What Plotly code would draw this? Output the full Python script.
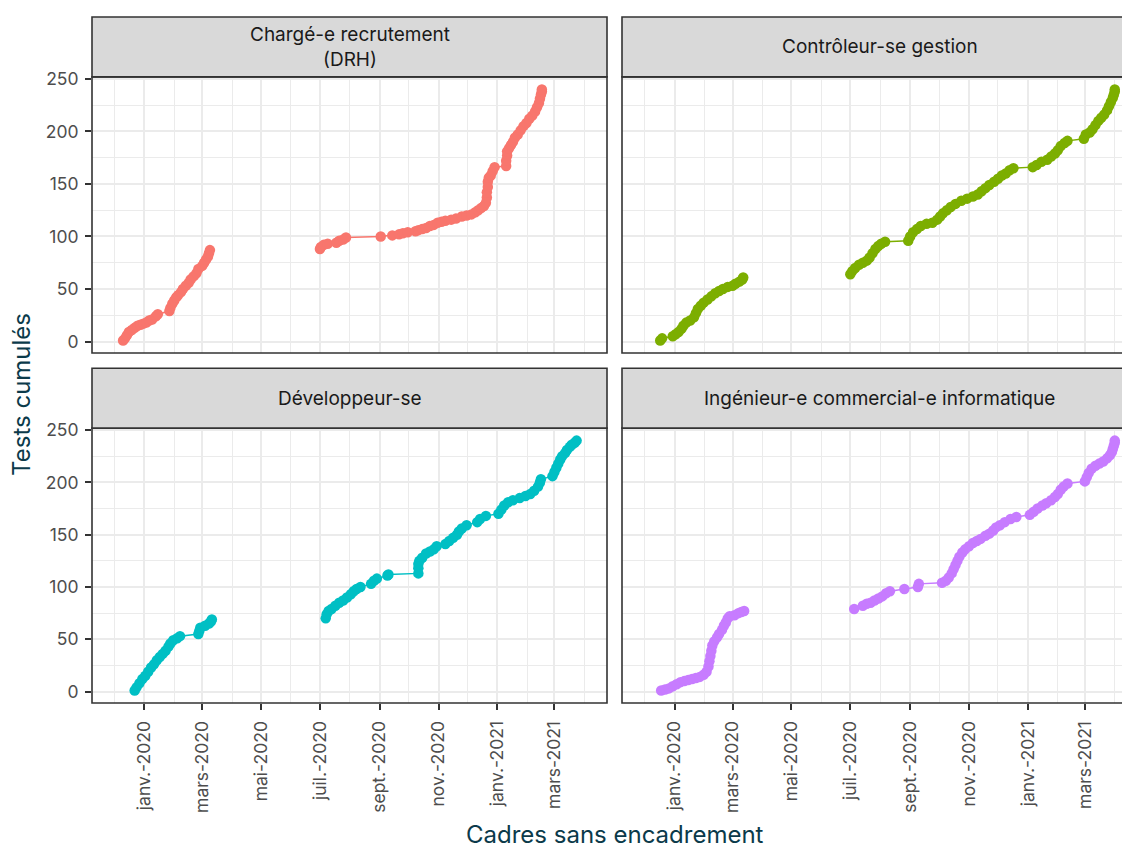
import plotly.graph_objects as go

# ---------------- data ----------------
panel_titles = ["Chargé-e recrutement<br>(DRH)", "Contrôleur-se gestion",
                "Développeur-se", "Ingénieur-e commercial-e informatique"]
colors = ["#F8766D", "#7CAE00", "#00BFC4", "#C77CFF"]

tick_dates = ["2020-01-01", "2020-03-01", "2020-05-01", "2020-07-01",
              "2020-09-01", "2020-11-01", "2021-01-01", "2021-03-01"]
tick_labels = ["janv.-2020", "mars-2020", "mai-2020", "juil.-2020",
               "sept.-2020", "nov.-2020", "janv.-2021", "mars-2021"]
minor_dates = ["2019-12-01", "2020-02-01", "2020-04-01", "2020-06-01",
               "2020-08-01", "2020-10-01", "2020-12-01", "2021-02-01", "2021-04-01"]
y_ticks = [0, 50, 100, 150, 200, 250]
y_minor = [25, 75, 125, 175, 225]

# Panel 1 : Chargé-e recrutement (DRH)
p1_dates_a = ["2019-12-10", "2019-12-12", "2019-12-14", "2019-12-16", "2019-12-19", "2019-12-22",
              "2019-12-25", "2019-12-28", "2019-12-31", "2020-01-03", "2020-01-06", "2020-01-09",
              "2020-01-13", "2020-01-15", "2020-01-27", "2020-01-28", "2020-01-30", "2020-02-01",
              "2020-02-03", "2020-02-05", "2020-02-08", "2020-02-10", "2020-02-13", "2020-02-16",
              "2020-02-18", "2020-02-21", "2020-02-24", "2020-02-26", "2020-03-01", "2020-03-03",
              "2020-03-05", "2020-03-07", "2020-03-08", "2020-03-09"]
p1_vals_a = [1, 3, 6, 9, 11, 13, 15, 16, 17, 18, 20, 21, 24, 26, 29, 32, 36, 39, 42, 44, 47, 50,
             53, 56, 59, 62, 65, 69, 72, 75, 78, 81, 84, 87]
p1_dates_b = ["2020-07-01", "2020-07-02", "2020-07-05", "2020-07-09", "2020-07-18", "2020-07-21",
              "2020-07-25", "2020-07-28", "2020-09-02", "2020-09-14", "2020-09-21", "2020-09-25",
              "2020-09-30", "2020-10-08", "2020-10-11", "2020-10-15", "2020-10-19", "2020-10-23",
              "2020-10-27", "2020-10-31", "2020-11-04", "2020-11-08", "2020-11-14", "2020-11-19",
              "2020-11-25", "2020-11-30", "2020-12-05", "2020-12-09", "2020-12-12", "2020-12-15",
              "2020-12-18", "2020-12-20", "2020-12-21", "2020-12-21", "2020-12-22", "2020-12-22",
              "2020-12-23", "2020-12-25", "2020-12-27", "2020-12-29", "2021-01-10", "2021-01-10",
              "2021-01-11", "2021-01-11", "2021-01-13", "2021-01-15", "2021-01-17", "2021-01-19",
              "2021-01-22", "2021-01-25", "2021-01-28", "2021-01-31", "2021-02-03", "2021-02-06",
              "2021-02-09", "2021-02-11", "2021-02-13", "2021-02-14", "2021-02-15", "2021-02-16",
              "2021-02-16"]
p1_vals_b = [88, 90, 92, 93, 94, 96, 97, 99, 100, 101, 102, 103, 104, 105, 106, 107, 108, 110,
             111, 113, 114, 115, 116, 117, 119, 120, 121, 123, 125, 127, 129, 132, 137, 142, 147,
             152, 156, 158, 162, 166, 167, 172, 177, 181, 184, 187, 190, 194, 197, 201, 205, 208,
             212, 215, 219, 223, 227, 231, 235, 238, 240]

# Panel 2 : Contrôleur-se gestion
p2_dates_a = ["2019-12-17", "2019-12-19", "2019-12-30", "2020-01-02", "2020-01-05", "2020-01-08",
              "2020-01-10", "2020-01-13", "2020-01-17", "2020-01-21", "2020-01-23", "2020-01-25",
              "2020-01-28", "2020-01-31", "2020-02-04", "2020-02-08", "2020-02-12", "2020-02-16",
              "2020-02-20", "2020-02-25", "2020-03-01", "2020-03-04", "2020-03-08", "2020-03-11",
              "2020-03-12"]
p2_vals_a = [1, 3, 5, 7, 9, 12, 15, 18, 20, 23, 27, 31, 34, 37, 40, 43, 46, 48, 50, 52, 53, 55,
             57, 59, 61]
p2_dates_b = ["2020-07-01", "2020-07-03", "2020-07-06", "2020-07-10", "2020-07-14", "2020-07-18",
              "2020-07-21", "2020-07-24", "2020-07-27", "2020-07-30", "2020-08-02", "2020-08-06",
              "2020-08-30", "2020-09-01", "2020-09-04", "2020-09-08", "2020-09-12", "2020-09-18",
              "2020-09-24", "2020-09-29", "2020-10-02", "2020-10-05", "2020-10-09", "2020-10-13",
              "2020-10-18", "2020-10-24", "2020-10-30", "2020-11-05", "2020-11-10", "2020-11-14",
              "2020-11-18", "2020-11-22", "2020-11-27", "2020-12-01", "2020-12-05", "2020-12-09",
              "2020-12-13", "2020-12-17", "2021-01-06", "2021-01-10", "2021-01-15", "2021-01-21",
              "2021-01-25", "2021-01-29", "2021-02-01", "2021-02-04", "2021-02-08", "2021-02-11",
              "2021-02-28", "2021-03-02", "2021-03-06", "2021-03-09", "2021-03-12", "2021-03-15",
              "2021-03-18", "2021-03-21", "2021-03-24", "2021-03-26", "2021-03-28", "2021-03-30",
              "2021-03-31", "2021-04-01", "2021-04-01"]
p2_vals_b = [64, 67, 70, 73, 75, 77, 80, 84, 88, 91, 93, 95, 96, 100, 104, 107, 110, 112, 113,
             116, 119, 122, 125, 128, 131, 134, 136, 138, 140, 143, 146, 149, 152, 155, 158, 160,
             163, 165, 166, 168, 171, 173, 176, 179, 182, 186, 189, 191, 193, 197, 199, 202, 206,
             210, 213, 216, 220, 224, 228, 232, 235, 238, 240]

# Panel 3 : Développeur-se
p3_dates_a = ["2019-12-22", "2019-12-24", "2019-12-27", "2019-12-30", "2020-01-02", "2020-01-05",
              "2020-01-08", "2020-01-11", "2020-01-14", "2020-01-17", "2020-01-20", "2020-01-23",
              "2020-01-26", "2020-01-28", "2020-01-31", "2020-02-04", "2020-02-07", "2020-02-26",
              "2020-02-27", "2020-02-28", "2020-03-04", "2020-03-08", "2020-03-10", "2020-03-11"]
p3_vals_a = [1, 4, 8, 12, 15, 19, 23, 26, 30, 33, 36, 39, 43, 46, 49, 51, 53, 55, 58, 61, 63, 65,
             67, 69]
p3_dates_b = ["2020-07-07", "2020-07-08", "2020-07-10", "2020-07-13", "2020-07-17", "2020-07-21",
              "2020-07-25", "2020-07-29", "2020-08-02", "2020-08-05", "2020-08-08", "2020-08-12",
              "2020-08-23", "2020-08-26", "2020-08-29", "2020-09-09", "2020-09-10", "2020-10-11",
              "2020-10-11", "2020-10-11", "2020-10-12", "2020-10-15", "2020-10-19", "2020-10-23",
              "2020-10-27", "2020-10-30", "2020-11-08", "2020-11-12", "2020-11-16", "2020-11-20",
              "2020-11-22", "2020-11-25", "2020-11-30", "2020-12-11", "2020-12-14", "2020-12-20",
              "2021-01-02", "2021-01-05", "2021-01-08", "2021-01-12", "2021-01-17", "2021-01-24",
              "2021-01-30", "2021-02-04", "2021-02-08", "2021-02-12", "2021-02-14", "2021-02-15",
              "2021-02-27", "2021-03-01", "2021-03-03", "2021-03-05", "2021-03-07", "2021-03-09",
              "2021-03-12", "2021-03-14", "2021-03-17", "2021-03-19", "2021-03-22", "2021-03-24"]
p3_vals_b = [70, 74, 77, 79, 82, 85, 87, 90, 93, 96, 98, 100, 103, 106, 108, 111, 112, 113, 118,
             122, 125, 128, 132, 134, 136, 139, 141, 144, 147, 150, 153, 156, 159, 162, 165, 168,
             170, 174, 178, 181, 183, 185, 187, 189, 192, 196, 200, 203, 206, 210, 214, 218, 222,
             225, 228, 231, 234, 236, 238, 240]

# Panel 4 : Ingénieur-e commercial-e informatique
p4_dates_a = ["2019-12-18", "2019-12-22", "2019-12-26", "2019-12-30", "2020-01-03", "2020-01-07",
              "2020-01-11", "2020-01-15", "2020-01-19", "2020-01-23", "2020-01-27", "2020-01-31",
              "2020-02-03", "2020-02-05", "2020-02-06", "2020-02-07", "2020-02-08", "2020-02-09",
              "2020-02-11", "2020-02-14", "2020-02-16", "2020-02-19", "2020-02-21", "2020-02-23",
              "2020-02-25", "2020-02-27", "2020-03-03", "2020-03-07", "2020-03-10", "2020-03-13"]
p4_vals_a = [1, 2, 3, 5, 7, 9, 10, 11, 12, 13, 14, 16, 19, 24, 29, 34, 39, 44, 48, 52, 55, 59,
             63, 66, 70, 72, 73, 75, 76, 77]
p4_dates_b = ["2020-07-05", "2020-07-14", "2020-07-18", "2020-07-22", "2020-07-26", "2020-07-30",
              "2020-08-03", "2020-08-07", "2020-08-11", "2020-08-26", "2020-09-09", "2020-09-10",
              "2020-10-04", "2020-10-08", "2020-10-11", "2020-10-14", "2020-10-16", "2020-10-18",
              "2020-10-20", "2020-10-22", "2020-10-25", "2020-10-28", "2020-11-01", "2020-11-05",
              "2020-11-09", "2020-11-13", "2020-11-18", "2020-11-22", "2020-11-26", "2020-11-29",
              "2020-12-03", "2020-12-08", "2020-12-14", "2020-12-20", "2021-01-03", "2021-01-07",
              "2021-01-11", "2021-01-16", "2021-01-20", "2021-01-25", "2021-01-29", "2021-02-01",
              "2021-02-04", "2021-02-07", "2021-02-11", "2021-03-01", "2021-03-03", "2021-03-05",
              "2021-03-08", "2021-03-12", "2021-03-16", "2021-03-20", "2021-03-24", "2021-03-27",
              "2021-03-29", "2021-03-30", "2021-03-31", "2021-04-01", "2021-04-01"]
p4_vals_b = [79, 82, 84, 85, 87, 89, 91, 94, 96, 98, 100, 103, 104, 106, 109, 113, 117, 121, 125,
             129, 133, 136, 139, 142, 144, 146, 149, 151, 154, 157, 159, 162, 165, 167, 169, 172,
             175, 178, 180, 183, 186, 189, 193, 196, 199, 201, 205, 209, 213, 216, 218, 220, 223,
             226, 229, 232, 235, 238, 240]

panels = [
    [(p1_dates_a, p1_vals_a), (p1_dates_b, p1_vals_b)],
    [(p2_dates_a, p2_vals_a), (p2_dates_b, p2_vals_b)],
    [(p3_dates_a, p3_vals_a), (p3_dates_b, p3_vals_b)],
    [(p4_dates_a, p4_vals_a), (p4_dates_b, p4_vals_b)],
]

# ---------------- layout geometry ----------------
# Geometry is given in page pixels; the page body adds an 8 px margin.
OFF = 8
W, H = 1130 - OFF, 849 - OFF
ML, MR, MT, MB = 92 - OFF, 0, 15 - OFF, 146
PW, PH = W - ML - MR, H - MT - MB


def fx(px):
    return (px - OFF - ML) / PW


def fy(py):
    return (H - MB - (py - OFF)) / PH


col_px = [(92, 607), (622, 1137)]
row_px = [(75, 352), (427.3, 703)]
strip_px = [(15, 75), (367.3, 427.3)]
x_ranges = [["2019-11-07 19:00", "2021-04-24 12:00"],
            ["2019-11-07 10:00", "2021-04-16 19:00"]]
y_range = [-10.95, 251.95]

FONT = "Inter, sans-serif"
GRID_MAJ = "#EBEBEB"
DARK = "#333333"

fig = go.Figure()
shapes, annotations = [], []

for i, segs in enumerate(panels):
    r, c = divmod(i, 2)
    ax = "" if i == 0 else str(i + 1)
    for d, v in segs:
        fig.add_trace(go.Scatter(
            x=d, y=v, mode="lines+markers", xaxis="x" + ax, yaxis="y" + ax,
            line=dict(color=colors[i], width=1.5),
            marker=dict(color=colors[i], size=10.5, line=dict(width=0)),
            showlegend=False, hoverinfo="x+y"))

    x0p, x1p = col_px[c]
    y0p, y1p = row_px[r]
    xdom = [fx(x0p), min(1.0, fx(x1p))]
    ydom = [fy(y1p), fy(y0p)]
    bottom = (r == 1)
    left = (c == 0)
    fig.layout["xaxis" + ax] = dict(
        domain=xdom, range=x_ranges[c], type="date",
        anchor="y" + ax, showline=False, zeroline=False,
        tickmode="array", tickvals=tick_dates, ticktext=tick_labels,
        showticklabels=bottom, ticks="outside" if bottom else "",
        ticklen=6, tickwidth=1.6, tickcolor=DARK, tickangle=-90,
        ticklabelstandoff=4,
        tickfont=dict(family=FONT, size=17.5, color="#4D4D4D"),
        showgrid=True, gridcolor=GRID_MAJ, gridwidth=2,
        minor=dict(tickmode="array", tickvals=minor_dates, showgrid=True,
                   gridcolor=GRID_MAJ, gridwidth=1, ticks=""),
        fixedrange=True,
    )
    fig.layout["yaxis" + ax] = dict(
        domain=ydom, range=y_range, anchor="x" + ax,
        showline=False, zeroline=False,
        tickmode="array", tickvals=y_ticks,
        showticklabels=left, ticks="outside" if left else "",
        ticklen=6, tickwidth=1.6, tickcolor=DARK,
        ticklabelstandoff=3,
        tickfont=dict(family=FONT, size=17.5, color="#4D4D4D"),
        showgrid=True, gridcolor=GRID_MAJ, gridwidth=2,
        minor=dict(tickmode="array", tickvals=y_minor, showgrid=True,
                   gridcolor=GRID_MAJ, gridwidth=1, ticks=""),
        fixedrange=True,
    )
    # panel border
    shapes.append(dict(type="rect", xref="paper", yref="paper", layer="above",
                       x0=fx(x0p), x1=fx(x1p), y0=fy(y1p), y1=fy(y0p),
                       line=dict(color=DARK, width=1.6), fillcolor="rgba(0,0,0,0)"))
    # strip
    s0, s1 = strip_px[r]
    shapes.append(dict(type="rect", xref="paper", yref="paper", layer="above",
                       x0=fx(x0p), x1=fx(x1p), y0=fy(s1), y1=fy(s0),
                       line=dict(color=DARK, width=1.6), fillcolor="#D9D9D9"))
    annotations.append(dict(xref="paper", yref="paper",
                            x=fx((x0p + x1p) / 2), y=fy((s0 + s1) / 2),
                            text=panel_titles[i], showarrow=False,
                            xanchor="center", yanchor="middle",
                            font=dict(family=FONT, size=19, color="#1A1A1A")))

annotations.append(dict(xref="paper", yref="paper", x=fx(614.5), y=fy(835),
                        text="Cadres sans encadrement", showarrow=False,
                        xanchor="center", yanchor="middle",
                        font=dict(family=FONT, size=24, color="#0B3A4A")))
annotations.append(dict(xref="paper", yref="paper", x=fx(22), y=fy(394),
                        text="Tests cumulés", showarrow=False, textangle=-90,
                        xanchor="center", yanchor="middle",
                        font=dict(family=FONT, size=24, color="#0B3A4A")))

fig.update_layout(
    width=W, height=H,
    margin=dict(l=ML, r=MR, t=MT, b=MB, pad=0),
    paper_bgcolor="white", plot_bgcolor="white",
    shapes=shapes, annotations=annotations,
    showlegend=False,
)

fig.write_html("out.html")
